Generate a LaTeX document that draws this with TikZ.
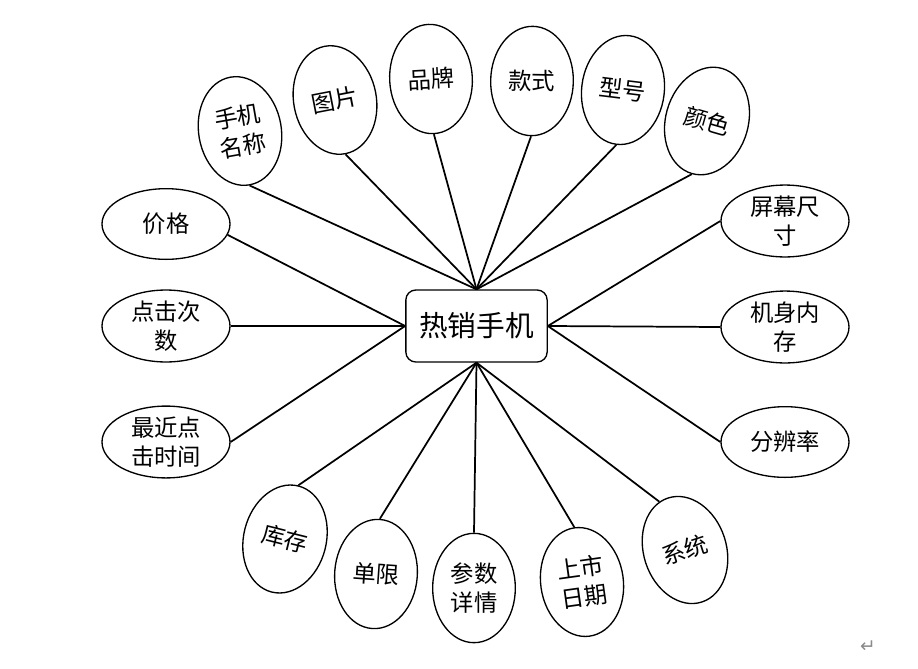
\documentclass[tikz,border=0pt]{standalone}
\usepackage{fontspec}
\usepackage{tikz}
\usetikzlibrary{shapes.geometric}
\newfontfamily\cjk{Noto Sans CJK SC}
\newfontfamily\symb{DejaVu Sans}
\definecolor{ink}{HTML}{000000}
\definecolor{markgray}{HTML}{8A8A8A}

\begin{document}
\begin{tikzpicture}[x=0.75pt, y=-0.75pt,
      attr/.style={ellipse, draw=ink, line width=1pt, inner sep=0pt, align=center,
        font=\cjk\fontsize{17.5}{22}\selectfont},
      tall/.style={attr, minimum width=62pt, minimum height=82pt},
      wide/.style={attr, minimum width=96pt, minimum height=53pt},
      hubbox/.style={draw=ink, line width=1pt, rounded corners=7.5pt, minimum width=106pt,
        minimum height=54pt, font=\cjk\fontsize{21.5}{26}\selectfont},
      link/.style={draw=ink, line width=1.3pt}
    ]
    \useasboundingbox (0,0) rectangle (918,668);

    \node[hubbox] (hub) at (476.5,326) {热销手机};

    % top row
    \node[tall, rotate=10] (pname) at (240,131) {手机\\名称};
    \node[tall, rotate=11] (photo) at (335,100) {图片};
    \node[tall, rotate=3] (brand) at (431,79) {品牌};
    \node[tall, rotate=-1] (design) at (532,81) {款式};
    \node[tall, rotate=-7] (model) at (623,90) {型号};
    \node[tall, rotate=-16] (colour) at (707,121) {颜色};

    % left and right columns
    \node[wide] (price) at (166,224) {价格};
    \node[wide] (clicks) at (166,326) {点击次\\数};
    \node[wide] (lastclick) at (166,442) {最近点\\击时间};
    \node[wide] (screen) at (785,221) {屏幕尺\\寸};
    \node[wide] (memory) at (785,327) {机身内\\存};
    \node[wide] (resol) at (785,442) {分辨率};

    % bottom row
    \node[tall, rotate=-14] (stock) at (285,539) {库存};
    \node[tall, rotate=-4] (limit) at (376,574) {单限};
    \node[tall] (params) at (474,588) {参数\\详情};
    \node[tall, rotate=8] (release) at (582,582) {上市\\日期};
    \node[tall, rotate=18] (system) at (685,550) {系统};

    \node[text=markgray, font=\symb\fontsize{14}{14}\selectfont] (para) at (868,647) {↵};

    \foreach \n in {pname,photo,brand,design,model,colour}
      \draw[link] (\n.south) -- (hub.north);
    \draw[link] (price.-10) -- (hub.west);
    \draw[link] (clicks.east) -- (hub.west);
    \draw[link] (lastclick.east) -- (hub.west);
    \foreach \n in {screen,memory,resol}
      \draw[link] (\n.west) -- (hub.east);
    \foreach \n in {stock,limit,params,release}
      \draw[link] (\n.north) -- (hub.south);
    \draw[link] (system.100) -- (hub.south);
  \end{tikzpicture}
\end{document}
